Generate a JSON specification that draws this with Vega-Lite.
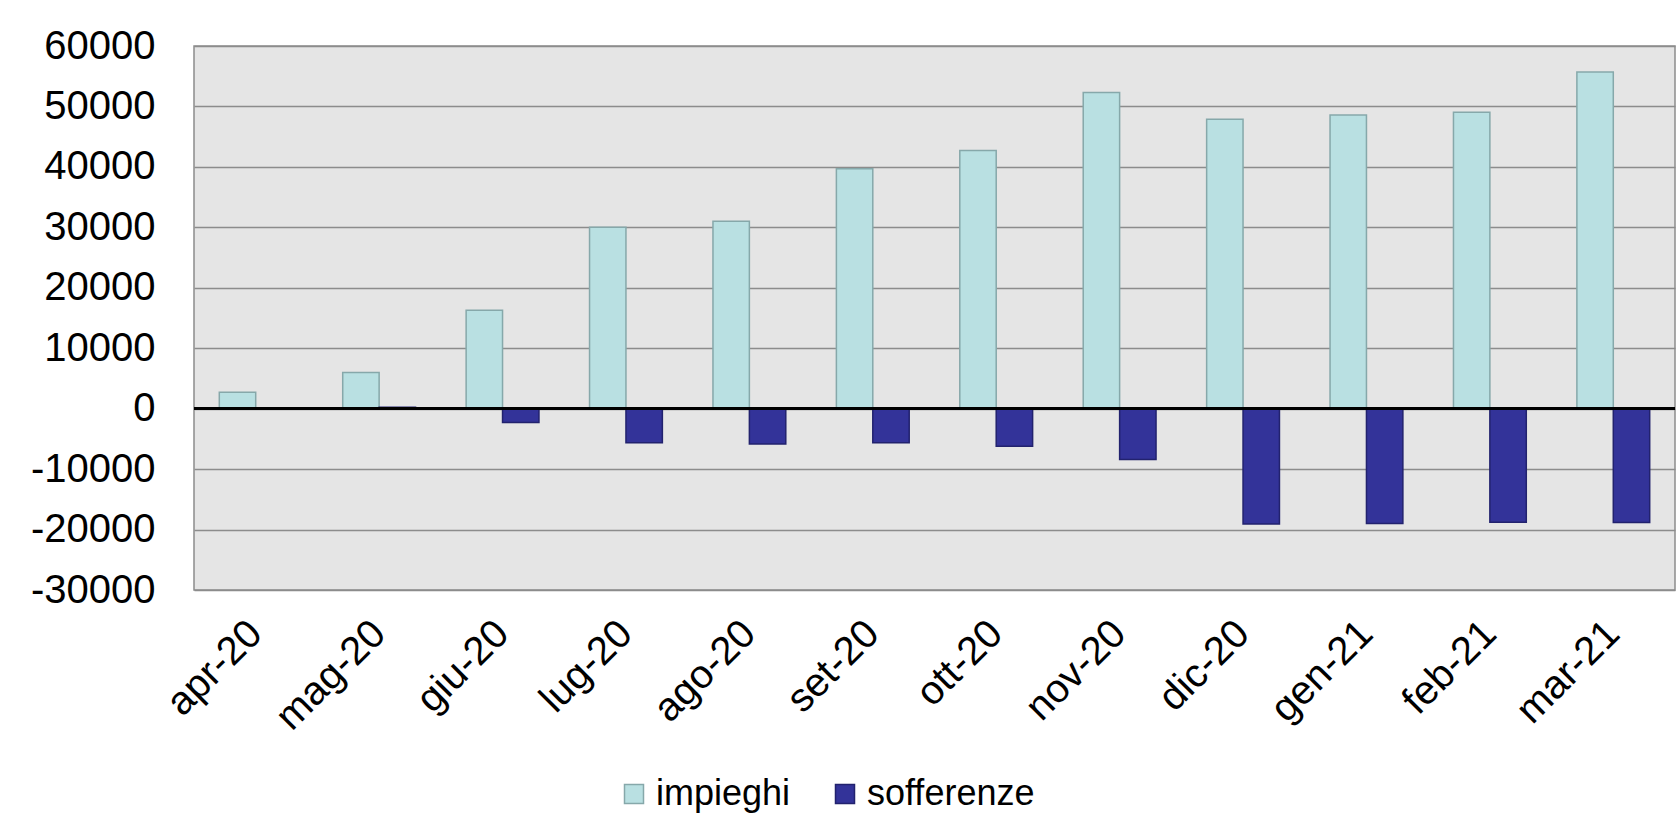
{
  "$schema": "https://vega.github.io/schema/vega-lite/v6.json",
  "width": 1481,
  "height": 544,
  "autosize": {"type": "none"},
  "padding": {"left": 194, "top": 46, "right": 4, "bottom": 244},
  "background": "#ffffff",
  "config": {
    "font": "Liberation Sans",
    "view": {"fill": "#e5e5e5", "stroke": "#8c8c8c", "strokeWidth": 1.5}
  },
  "data": {
    "values": [
      {"mese": "apr-20", "serie": "impieghi", "valore": 2700},
      {"mese": "apr-20", "serie": "sofferenze", "valore": 80},
      {"mese": "mag-20", "serie": "impieghi", "valore": 6000},
      {"mese": "mag-20", "serie": "sofferenze", "valore": 250},
      {"mese": "giu-20", "serie": "impieghi", "valore": 16300},
      {"mese": "giu-20", "serie": "sofferenze", "valore": -2300},
      {"mese": "lug-20", "serie": "impieghi", "valore": 30000},
      {"mese": "lug-20", "serie": "sofferenze", "valore": -5650},
      {"mese": "ago-20", "serie": "impieghi", "valore": 31000},
      {"mese": "ago-20", "serie": "sofferenze", "valore": -5850},
      {"mese": "set-20", "serie": "impieghi", "valore": 39700},
      {"mese": "set-20", "serie": "sofferenze", "valore": -5650},
      {"mese": "ott-20", "serie": "impieghi", "valore": 42700},
      {"mese": "ott-20", "serie": "sofferenze", "valore": -6200},
      {"mese": "nov-20", "serie": "impieghi", "valore": 52300},
      {"mese": "nov-20", "serie": "sofferenze", "valore": -8400},
      {"mese": "dic-20", "serie": "impieghi", "valore": 47900},
      {"mese": "dic-20", "serie": "sofferenze", "valore": -19100},
      {"mese": "gen-21", "serie": "impieghi", "valore": 48600},
      {"mese": "gen-21", "serie": "sofferenze", "valore": -19000},
      {"mese": "feb-21", "serie": "impieghi", "valore": 49050},
      {"mese": "feb-21", "serie": "sofferenze", "valore": -18800},
      {"mese": "mar-21", "serie": "impieghi", "valore": 55700},
      {"mese": "mar-21", "serie": "sofferenze", "valore": -18850}
    ]
  },
  "layer": [
    {
      "mark": {"type": "bar", "strokeWidth": 1.5},
      "encoding": {
        "x": {
          "field": "mese",
          "type": "nominal",
          "sort": ["apr-20", "mag-20", "giu-20", "lug-20", "ago-20", "set-20", "ott-20", "nov-20", "dic-20", "gen-21", "feb-21", "mar-21"],
          "scale": {"paddingInner": 0.41, "paddingOuter": 0.205},
          "axis": {
            "title": null,
            "labelAngle": -45,
            "labelAlign": "right",
            "labelBaseline": "middle",
            "labelFontSize": 40,
            "labelColor": "#000000",
            "labelPadding": 37,
            "ticks": false,
            "domain": false,
            "grid": false,
            "labelOverlap": false
          }
        },
        "xOffset": {"field": "serie", "type": "nominal", "sort": ["impieghi", "sofferenze"], "scale": {"paddingInner": 0, "paddingOuter": 0}},
        "y": {
          "field": "valore",
          "type": "quantitative",
          "scale": {"domain": [-30000, 60000], "nice": false, "zero": false},
          "axis": {
            "title": null,
            "values": [-30000, -20000, -10000, 0, 10000, 20000, 30000, 40000, 50000, 60000],
            "labelExpr": "'' + datum.value",
            "labelFontSize": 40,
            "labelColor": "#000000",
            "labelPadding": 39,
            "ticks": false,
            "domain": false,
            "grid": true,
            "gridColor": "#8c8c8c",
            "gridWidth": 1.5,
            "gridOpacity": 1
          }
        },
        "color": {
          "field": "serie",
          "type": "nominal",
          "scale": {"domain": ["impieghi", "sofferenze"], "range": ["#b9e0e2", "#333399"]},
          "legend": {
            "title": null,
            "orient": "none",
            "direction": "horizontal",
            "legendX": 422,
            "legendY": 730,
            "symbolType": "square",
            "symbolSize": 361,
            "symbolStrokeWidth": 1.5,
            "labelFontSize": 36,
            "labelColor": "#000000",
            "labelOffset": 4,
            "labelLimit": 600,
            "columnPadding": 36
          }
        },
        "stroke": {
          "field": "serie",
          "type": "nominal",
          "scale": {"domain": ["impieghi", "sofferenze"], "range": ["#86a8aa", "#22226e"]},
          "legend": {
            "title": null,
            "orient": "none",
            "direction": "horizontal",
            "legendX": 422,
            "legendY": 730,
            "symbolType": "square",
            "symbolSize": 361,
            "symbolStrokeWidth": 1.5,
            "labelFontSize": 36,
            "labelColor": "#000000",
            "labelOffset": 4,
            "labelLimit": 600,
            "columnPadding": 36
          }
        }
      }
    },
    {
      "mark": {"type": "rule", "color": "#000000", "strokeWidth": 2.5},
      "encoding": {"y": {"datum": 0}}
    }
  ]
}
